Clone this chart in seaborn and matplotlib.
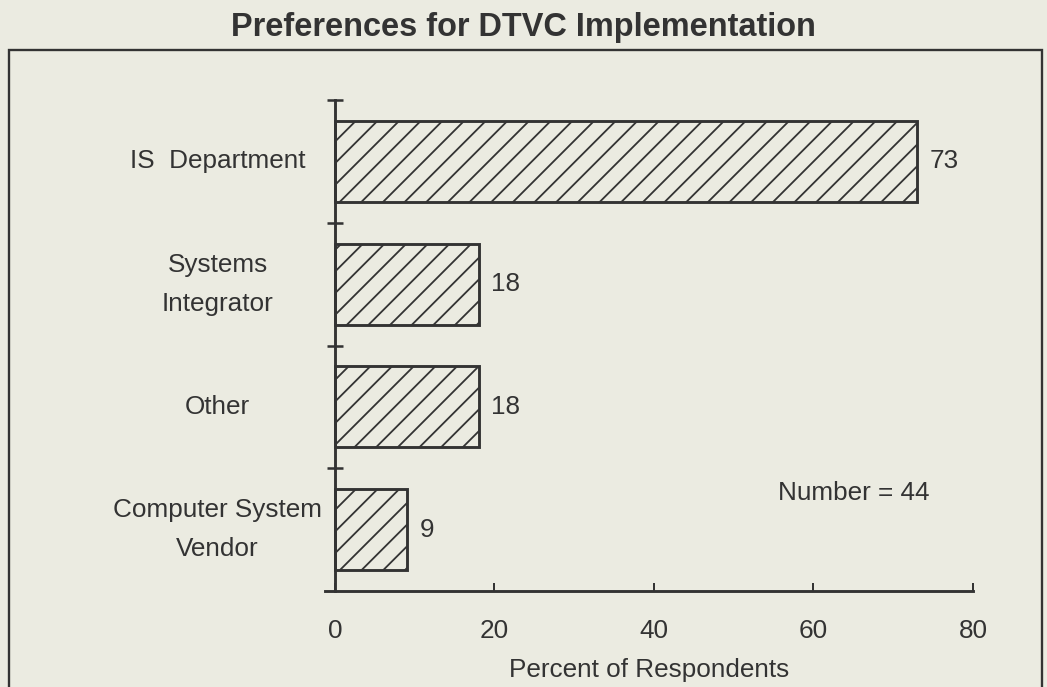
import matplotlib
matplotlib.use("Agg")
import matplotlib.pyplot as plt
import seaborn as sns
import pandas as pd
from matplotlib.patches import Rectangle
from matplotlib.ticker import FixedLocator

categories = ["IS  Department", "Systems\nIntegrator", "Other", "Computer System\nVendor"]
percent = [73, 18, 18, 9]
respondents = 44

bg = "#ebebe1"
ink = "#333333"
fs = 14.5

sns.set_style("white")
plt.rcParams["font.family"] = ["Liberation Sans", "DejaVu Sans"]
plt.rcParams["hatch.linewidth"] = 1.0

df = pd.DataFrame({"category": categories, "percent": percent})

dpi = 130
fig = plt.figure(figsize=(1047 / dpi, 687 / dpi), dpi=dpi, facecolor=bg)
ax = fig.add_axes([325.4 / 1047, (687 - 591) / 687, (973 - 325.4) / 1047, (591 - 100) / 687])
ax.set_facecolor(bg)

sns.barplot(df, x="percent", y="category", orient="h", color=bg,
            edgecolor=ink, linewidth=1.6, width=0.66, ax=ax)
for p in ax.patches:
    p.set_hatch("//")
    p.set_facecolor(bg)
    p.set_edgecolor(ink)

# value labels at the bar ends
for i, v in enumerate(percent):
    ax.text(v + 1.6, i, str(v), va="center", ha="left", fontsize=fs, color=ink)

ax.text(55.5, 2.7, f"Number = {respondents}", va="center", ha="left", fontsize=fs, color=ink)

ax.set_xlim(-1.2, 80)
ax.set_ylim(3.5, -0.5)
ax.set_xticks([0, 20, 40, 60, 80])
ax.yaxis.set_minor_locator(FixedLocator([-0.5, 0.5, 1.5, 2.5]))

for side in ["top", "right"]:
    ax.spines[side].set_visible(False)
ax.spines["left"].set_position(("data", 0))
for side in ["left", "bottom"]:
    ax.spines[side].set_color(ink)
    ax.spines[side].set_linewidth(1.6)

ax.tick_params(axis="x", direction="in", length=4.5, width=1.1, color=ink,
               labelsize=fs, labelcolor=ink, pad=15.5, bottom=True)
ax.tick_params(axis="y", which="major", length=0, labelsize=fs, labelcolor=ink, pad=65)
ax.tick_params(axis="y", which="minor", direction="inout", length=9, width=1.4,
               color=ink, left=True)
for lab in ax.get_yticklabels():
    lab.set_horizontalalignment("center")
    lab.set_verticalalignment("center")
    lab.set_multialignment("center")
    lab.set_linespacing(1.8)

ax.set_ylabel("")
ax.set_xlabel("Percent of Respondents", fontsize=fs, color=ink, labelpad=8.5)

fig.text(0.5, 1 - 36 / 687, "Preferences for DTVC Implementation", ha="center", va="baseline",
         fontsize=18, fontweight="bold", color=ink)

fig.patches.append(Rectangle((9 / 1047, -0.1), (1042 - 9) / 1047, 0.1 + (687 - 50) / 687,
                             transform=fig.transFigure, fill=False, edgecolor=ink,
                             linewidth=1.3, clip_on=False))

fig.savefig("out.png", dpi=dpi, facecolor=bg)
